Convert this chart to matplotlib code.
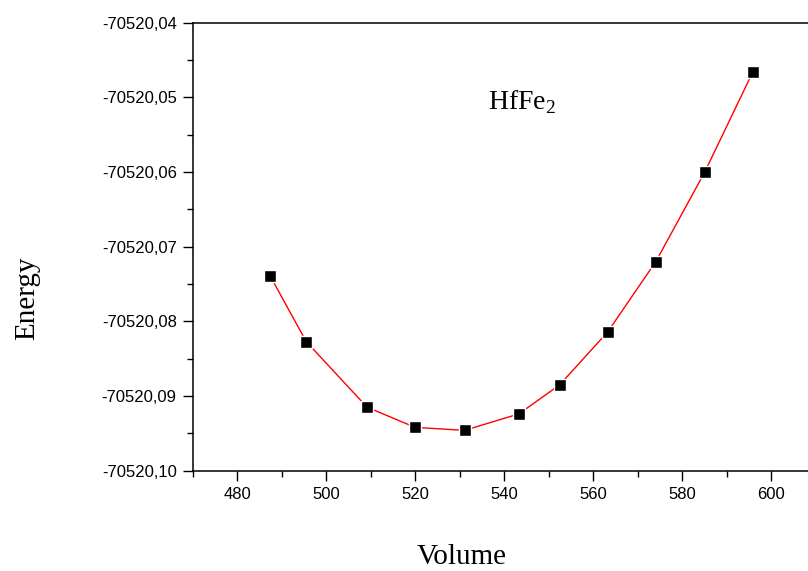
import matplotlib
matplotlib.use('Agg')
import matplotlib.pyplot as plt
from matplotlib.ticker import MultipleLocator, FuncFormatter

# data
volume = [487.4, 495.5, 509.2, 520.0, 531.1, 543.3, 552.5, 563.3, 574.1, 585.1, 595.9]
energy = [-70520.0739, -70520.0827, -70520.0915, -70520.0942, -70520.0946, -70520.0924,
          -70520.0885, -70520.0814, -70520.0720, -70520.0600, -70520.0466]
compound = 'HfFe$_\\mathregular{2}$'

plt.rcParams['font.family'] = ['Liberation Sans', 'DejaVu Sans']
plt.rcParams['mathtext.fontset'] = 'custom'
plt.rcParams['mathtext.rm'] = 'Liberation Serif'

fig = plt.figure(figsize=(8.08, 5.71), dpi=100)
ax = fig.add_axes([0.2385, 0.1757, 0.7708, 0.7845])

ax.plot(volume, energy, color='red', lw=1.0, marker='s', ms=9,
        markerfacecolor='black', markeredgecolor='white', markeredgewidth=1.0)

ax.set_xlim(470, 610)
ax.set_ylim(-70520.10, -70520.04)

ax.xaxis.set_major_locator(MultipleLocator(20))
ax.xaxis.set_minor_locator(MultipleLocator(10))
ax.yaxis.set_major_locator(MultipleLocator(0.01))
ax.yaxis.set_minor_locator(MultipleLocator(0.005))
ax.yaxis.set_major_formatter(FuncFormatter(lambda v, p: f'{v:.2f}'.replace('.', ',')))

ax.tick_params(which='both', direction='out', width=1.0, labelsize=12, top=False, right=False)
ax.tick_params(which='major', length=7)
ax.tick_params(which='minor', length=4)
ax.tick_params(axis='y', pad=4.5)
ax.tick_params(axis='x', pad=5)
for s in ['left', 'bottom', 'top']:
    ax.spines[s].set_linewidth(1.1)
ax.spines['right'].set_visible(False)

ax.text(536.4, -70520.0516, compound, family='Liberation Serif', fontsize=20,
        ha='left', va='baseline')

fig.text(27.5 / 808, 1 - 298.5 / 571, 'Energy', family='Liberation Serif', fontsize=21,
         rotation=90, ha='center', va='center')
fig.text(462 / 808, 1 - 564 / 571, 'Volume', family='Liberation Serif', fontsize=21,
         ha='center', va='baseline')

fig.savefig('out.png', dpi=100)
